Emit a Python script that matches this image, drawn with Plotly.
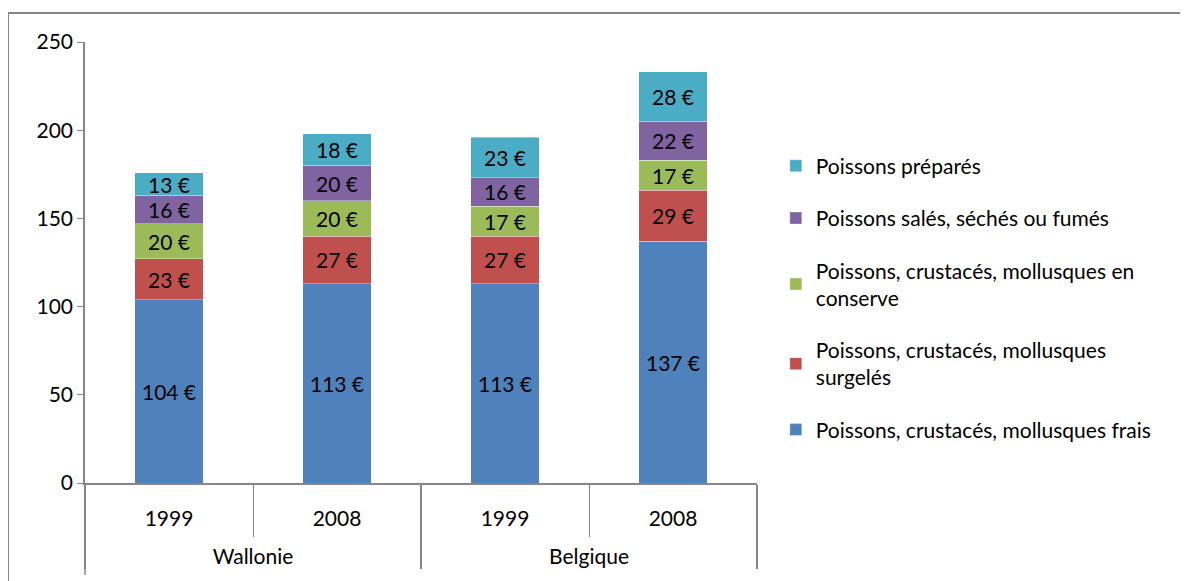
import plotly.graph_objects as go

regions = ["Wallonie", "Wallonie", "Belgique", "Belgique"]
years = ["1999", "2008", "1999", "2008"]

series_names = [
    "Poissons, crustacés, mollusques frais",
    "Poissons, crustacés, mollusques<br>surgelés",
    "Poissons, crustacés, mollusques en<br>conserve",
    "Poissons salés, séchés ou fumés",
    "Poissons préparés",
]
frais = [104, 113, 113, 137]
surgeles = [23, 27, 27, 29]
conserve = [20, 20, 17, 17]
sales = [16, 20, 16, 22]
prepares = [13, 18, 23, 28]
series_values = [frais, surgeles, conserve, sales, prepares]
colors = ["#4F81BD", "#C0504D", "#9BBB59", "#8064A2", "#4BACC6"]

FONT = "Lato, Open Sans, sans-serif"
FS = 21
AXIS_GRAY = "#868686"

# leading line break pushes the group labels lower, like Excel does
group_labels = ["<br>" + r for r in regions]

fig = go.Figure()
for i, (name, vals, col) in enumerate(zip(series_names, series_values, colors)):
    fig.add_trace(
        go.Bar(
            x=[group_labels, years],
            y=vals,
            name=name,
            marker=dict(color=col, line=dict(color="rgba(255,255,255,0.6)", width=0.6)),
            text=[f"{v} €" for v in vals],
            textposition="inside",
            insidetextanchor="middle",
            textangle=0,
            textfont=dict(color="black", size=FS, family=FONT),
            legendgroup=name,
            legendrank=10 - i,
        )
    )

# plot area: 672 x 441 px (page body adds 8px offset)
fig.update_layout(
    barmode="stack",
    bargap=0.595,
    width=1188,
    height=581,
    plot_bgcolor="white",
    paper_bgcolor="white",
    font=dict(family=FONT, size=FS, color="black"),
    margin=dict(l=77, r=439, t=34, b=106),
    uniformtext=dict(minsize=FS, mode="show"),
    showlegend=True,
    legend=dict(
        x=1.028,
        xanchor="left",
        y=0.765,
        yanchor="top",
        traceorder="grouped",
        tracegroupgap=22,
        font=dict(size=FS, family=FONT),
        itemwidth=30,
    ),
    shapes=[
        dict(
            type="rect",
            xref="paper",
            yref="paper",
            x0=(8 - 85) / 672,
            x1=(1200 - 85) / 672,
            y0=-(130) / 441,
            y1=1 + 29 / 441,
            line=dict(color=AXIS_GRAY, width=2),
            layer="below",
        ),
        dict(
            type="line",
            xref="paper",
            yref="paper",
            x0=0,
            x1=0,
            y0=0,
            y1=-92 / 441,
            line=dict(color=AXIS_GRAY, width=1.5),
        ),
    ],
)

fig.update_yaxes(
    range=[0, 250],
    dtick=50,
    showgrid=False,
    zeroline=False,
    showline=True,
    linecolor=AXIS_GRAY,
    linewidth=1.5,
    ticks="outside",
    ticklen=6,
    tickcolor=AXIS_GRAY,
    tickfont=dict(size=FS, family=FONT),
)
fig.update_xaxes(
    showgrid=False,
    showline=True,
    linecolor=AXIS_GRAY,
    linewidth=1.5,
    ticks="outside",
    tickson="boundaries",
    ticklen=52,
    tickcolor=AXIS_GRAY,
    ticklabelstandoff=16,
    showdividers=True,
    dividercolor=AXIS_GRAY,
    dividerwidth=1.5,
    tickfont=dict(size=FS, family=FONT),
)

fig.write_html("out.html")
